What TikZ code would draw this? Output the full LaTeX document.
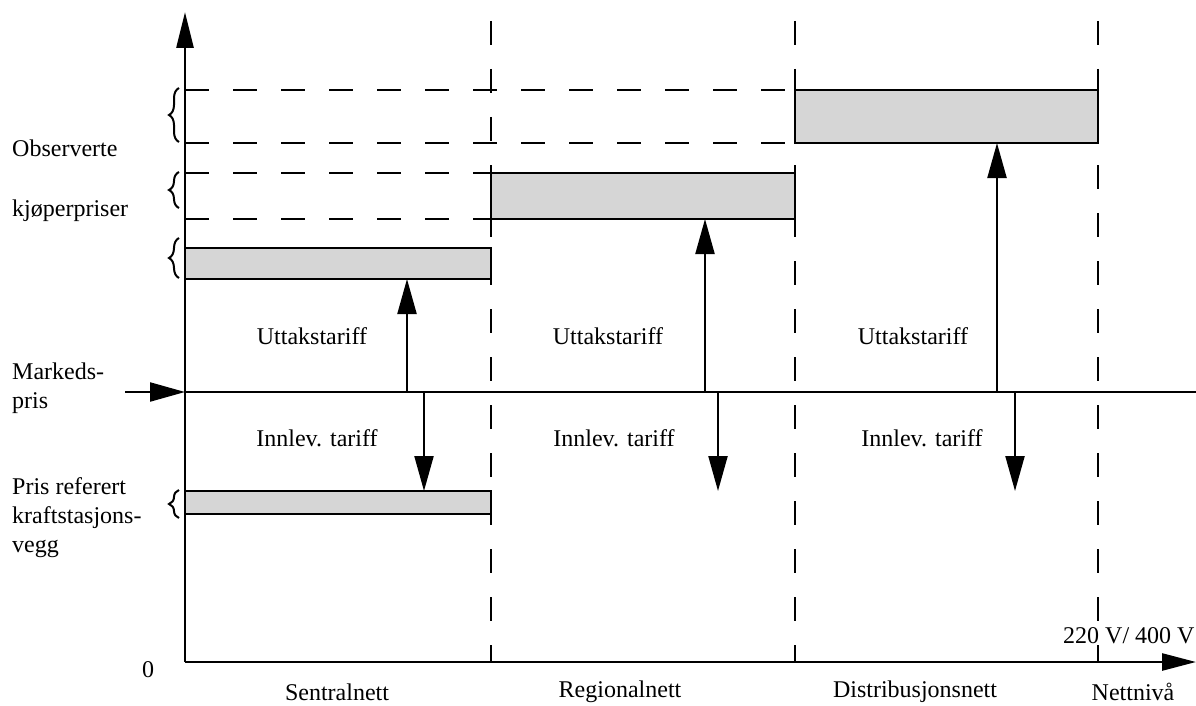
\documentclass[tikz,border=0pt]{standalone}
\usepackage{fontspec}
\setmainfont{Liberation Serif}
\usetikzlibrary{arrows.meta,positioning,decorations.pathreplacing}

\begin{document}
\begin{tikzpicture}[x=1pt, y=-1pt,
    font=\fontsize{24}{29}\selectfont,
    axis/.style={line width=2.6pt},
    bigarrow/.style={line width=2.2pt, -{Triangle[length=35pt,width=19pt]}},
    guide/.style={line width=2.2pt, dash pattern=on 24pt off 24pt},
    pricebox/.style={draw, line width=2.8pt, fill=black!16, inner sep=0pt, outer sep=0pt, minimum width=306pt, anchor=north west},
    lbl/.style={inner sep=0pt},
    sidelbl/.style={anchor=west, align=left, inner sep=0pt},
    brace/.style={decorate, decoration={brace, amplitude=10pt}, line width=2pt}]
  \useasboundingbox (0,0) rectangle (1196,706);

  \coordinate (origin) at (185,662);
  \coordinate (ytop) at (185,12);
  \coordinate (xend) at (1196,662);
  \coordinate (mstart) at (125,392);
  \coordinate (mp) at (185,392);
  \coordinate (mend) at (1196,392);

  \draw[guide] (491,21) -- (491,662);
  \draw[guide] (795,21) -- (795,662);
  \draw[guide] (1098,21) -- (1098,662);

  \node[pricebox, minimum height=31pt] (sentral) at (185,248) {};
  \node[pricebox, minimum width=304pt, minimum height=46pt] (regional) at (491,173) {};
  \node[pricebox, minimum width=303pt, minimum height=53pt] (distrib) at (795,90) {};
  \node[pricebox, minimum height=23pt] (kraft) at (185,491) {};

  \draw[guide] (distrib.north west -| origin) -- (distrib.north west);
  \draw[guide] (distrib.south west -| origin) -- (distrib.south west);
  \draw[guide] (regional.north west -| origin) -- (regional.north west);
  \draw[guide] (regional.south west -| origin) -- (regional.south west);

  \draw[axis, -{Triangle[length=36pt,width=17pt]}] (origin) -- (ytop);
  \draw[axis, -{Triangle[length=34pt,width=17pt]}] (origin) -- (xend);
  \draw[axis] (mp) -- (mend);
  \draw[bigarrow] (mstart) -- (mp);

  \coordinate (up1) at (407,392);
  \coordinate (dn1) at (424,392);
  \coordinate (up2) at (705,392);
  \coordinate (dn2) at (718,392);
  \coordinate (up3) at (997,392);
  \coordinate (dn3) at (1015,392);
  \draw[bigarrow] (up1) -- (up1 |- sentral.south);
  \draw[bigarrow] (dn1) -- (dn1 |- kraft.north);
  \draw[bigarrow] (up2) -- (up2 |- regional.south);
  \draw[bigarrow] (dn2) -- (dn2 |- kraft.north);
  \draw[bigarrow] (up3) -- (up3 |- distrib.south);
  \draw[bigarrow] (dn3) -- (dn3 |- kraft.north);

  \draw[brace] (179,142) -- (179,88);
  \draw[brace] (179,208) -- (179,172);
  \draw[brace] (179,278) -- (179,238);
  \draw[brace] (179,518) -- (179,490);

  \node[lbl] (utt1) at (312,336) {Uttakstariff};
  \node[lbl] (utt2) at (608,336) {Uttakstariff};
  \node[lbl] (utt3) at (913,336) {Uttakstariff};
  \node[lbl] (inn1) at (317,438) {Innlev. tariff};
  \node[lbl] (inn2) at (614,438) {Innlev. tariff};
  \node[lbl] (inn3) at (922,438) {Innlev. tariff};

  \node[sidelbl] (obs) at (12,148) {Observerte};
  \node[sidelbl] (kjop) at (12,211) {kjøperpriser};
  \node[sidelbl] (marked) at (12,388) {Markeds-\\pris};
  \node[sidelbl] (prisref) at (12,518) {Pris referert\\kraftstasjons-\\vegg};

  \node[lbl] (zero) at (148,670) {0};
  \node[lbl, anchor=west] (volt) at (1063,636) {220 V/ 400 V};
  \node[lbl] (sentralnett) at (337,692) {Sentralnett};
  \node[lbl] (regionalnett) at (620,692) {Regionalnett};
  \node[lbl] (distnett) at (915,692) {Distribusjonsnett};
  \node[lbl] (nettniva) at (1133,692) {Nettnivå};
\end{tikzpicture}
\end{document}
